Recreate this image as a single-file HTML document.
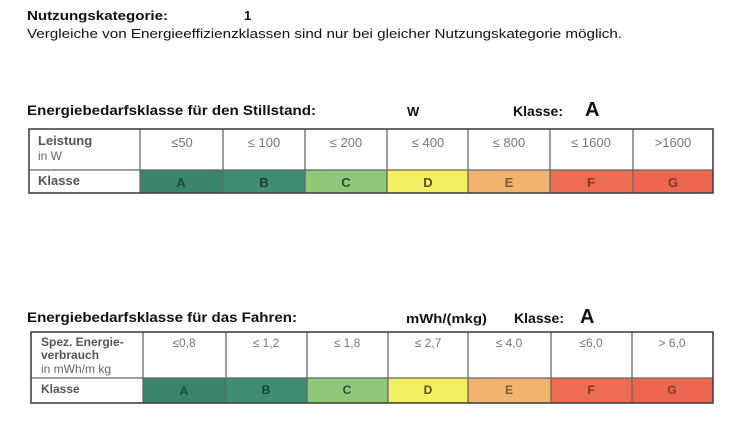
<!DOCTYPE html>
<html><head><meta charset="utf-8">
<style>
html,body{margin:0;padding:0;background:#fff;}
svg{display:block;}
text{font-family:"Liberation Sans",Arial,sans-serif;}
</style></head>
<body>
<svg width="738" height="423" viewBox="0 0 738 423" xmlns="http://www.w3.org/2000/svg">
<rect width="738" height="423" fill="#fff"/>

<text x="27" y="20" font-size="13" font-weight="bold" fill="#111" textLength="141" lengthAdjust="spacingAndGlyphs">Nutzungskategorie:</text>
<text x="244" y="20" font-size="13" font-weight="bold" fill="#111">1</text>
<text x="27" y="38" font-size="13" fill="#111" textLength="595" lengthAdjust="spacingAndGlyphs">Vergleiche von Energieeffizienzklassen sind nur bei gleicher Nutzungskategorie möglich.</text>

<text x="27" y="115" font-size="14" font-weight="bold" fill="#111" textLength="289" lengthAdjust="spacingAndGlyphs">Energiebedarfsklasse für den Stillstand:</text>
<text x="407" y="116" font-size="13" font-weight="bold" fill="#111">W</text>
<text x="513" y="116" font-size="14" font-weight="bold" fill="#111" textLength="50" lengthAdjust="spacingAndGlyphs">Klasse:</text>
<text x="585" y="116" font-size="20" font-weight="bold" fill="#111">A</text>

<rect x="140" y="170" width="83" height="23" fill="#3a8469"/>
<rect x="223" y="170" width="82" height="23" fill="#3f8d74"/>
<rect x="305" y="170" width="82" height="23" fill="#8fc87a"/>
<rect x="387" y="170" width="81" height="23" fill="#f3f062"/>
<rect x="468" y="170" width="82" height="23" fill="#f1b46e"/>
<rect x="550" y="170" width="83" height="23" fill="#ee6c52"/>
<rect x="633" y="170" width="80" height="23" fill="#ee6650"/>
<g stroke="#666" stroke-width="1.3" fill="none">
<line x1="29" y1="170" x2="713" y2="170"/>
<line x1="140" y1="129" x2="140" y2="193"/>
<line x1="223" y1="129" x2="223" y2="193"/>
<line x1="305" y1="129" x2="305" y2="193"/>
<line x1="387" y1="129" x2="387" y2="193"/>
<line x1="468" y1="129" x2="468" y2="193"/>
<line x1="550" y1="129" x2="550" y2="193"/>
<line x1="633" y1="129" x2="633" y2="193"/>
</g>
<rect x="29" y="129" width="684" height="64" fill="none" stroke="#444" stroke-width="1.6"/>
<text x="38" y="145" font-size="13" font-weight="bold" fill="#555">Leistung</text>
<text x="38" y="160" font-size="12" fill="#666">in W</text>
<text x="38" y="185" font-size="13" font-weight="bold" fill="#555">Klasse</text>
<g font-size="13" fill="#777" text-anchor="middle">
<text x="182" y="147">≤50</text>
<text x="264" y="147">≤ 100</text>
<text x="346" y="147">≤ 200</text>
<text x="428" y="147">≤ 400</text>
<text x="509" y="147">≤ 800</text>
<text x="591" y="147">≤ 1600</text>
<text x="673" y="147">&gt;1600</text>
</g>
<g font-size="13" font-weight="bold" text-anchor="middle">
<text x="181" y="187" fill="#1f4a3a">A</text>
<text x="264" y="187" fill="#1c3f33">B</text>
<text x="346" y="187" fill="#2e4a2e">C</text>
<text x="428" y="187" fill="#55521e">D</text>
<text x="509" y="187" fill="#7a5a3a">E</text>
<text x="591" y="187" fill="#7a3a2a">F</text>
<text x="673" y="187" fill="#7a3a30">G</text>
</g>

<text x="27" y="322" font-size="14" font-weight="bold" fill="#111" textLength="270" lengthAdjust="spacingAndGlyphs">Energiebedarfsklasse für das Fahren:</text>
<text x="406" y="323" font-size="13" font-weight="bold" fill="#111" textLength="81" lengthAdjust="spacingAndGlyphs">mWh/(mkg)</text>
<text x="514" y="323" font-size="14" font-weight="bold" fill="#111" textLength="50" lengthAdjust="spacingAndGlyphs">Klasse:</text>
<text x="580" y="323" font-size="20" font-weight="bold" fill="#111">A</text>

<rect x="143" y="378" width="83" height="25" fill="#3a8469"/>
<rect x="226" y="378" width="81" height="25" fill="#3f8d74"/>
<rect x="307" y="378" width="81" height="25" fill="#8fc87a"/>
<rect x="388" y="378" width="80" height="25" fill="#f3f062"/>
<rect x="468" y="378" width="83" height="25" fill="#f1b46e"/>
<rect x="551" y="378" width="81" height="25" fill="#ee6c52"/>
<rect x="632" y="378" width="81" height="25" fill="#ee6650"/>
<g stroke="#666" stroke-width="1.3" fill="none">
<line x1="31" y1="378" x2="713" y2="378"/>
<line x1="143" y1="332" x2="143" y2="403"/>
<line x1="226" y1="332" x2="226" y2="403"/>
<line x1="307" y1="332" x2="307" y2="403"/>
<line x1="388" y1="332" x2="388" y2="403"/>
<line x1="468" y1="332" x2="468" y2="403"/>
<line x1="551" y1="332" x2="551" y2="403"/>
<line x1="632" y1="332" x2="632" y2="403"/>
</g>
<rect x="31" y="332" width="682" height="71" fill="none" stroke="#444" stroke-width="1.6"/>
<text x="41" y="346" font-size="12" font-weight="bold" fill="#555">Spez. Energie-</text>
<text x="41" y="359" font-size="12" font-weight="bold" fill="#555">verbrauch</text>
<text x="41" y="373" font-size="12" fill="#666">in mWh/m kg</text>
<text x="41" y="393" font-size="12" font-weight="bold" fill="#555">Klasse</text>
<g font-size="12" fill="#777" text-anchor="middle">
<text x="184" y="347">≤0,8</text>
<text x="266" y="347">≤ 1,2</text>
<text x="347" y="347">≤ 1,8</text>
<text x="428" y="347">≤ 2,7</text>
<text x="509" y="347">≤ 4,0</text>
<text x="591" y="347">≤6,0</text>
<text x="672" y="347">&gt; 6,0</text>
</g>
<g font-size="12" font-weight="bold" text-anchor="middle">
<text x="184" y="395" fill="#1f4a3a">A</text>
<text x="266" y="394" fill="#1c3f33">B</text>
<text x="347" y="394" fill="#2e4a2e">C</text>
<text x="428" y="394" fill="#55521e">D</text>
<text x="509" y="394" fill="#7a5a3a">E</text>
<text x="591" y="394" fill="#7a3a2a">F</text>
<text x="672" y="394" fill="#7a3a30">G</text>
</g>
</svg>
</body></html>
